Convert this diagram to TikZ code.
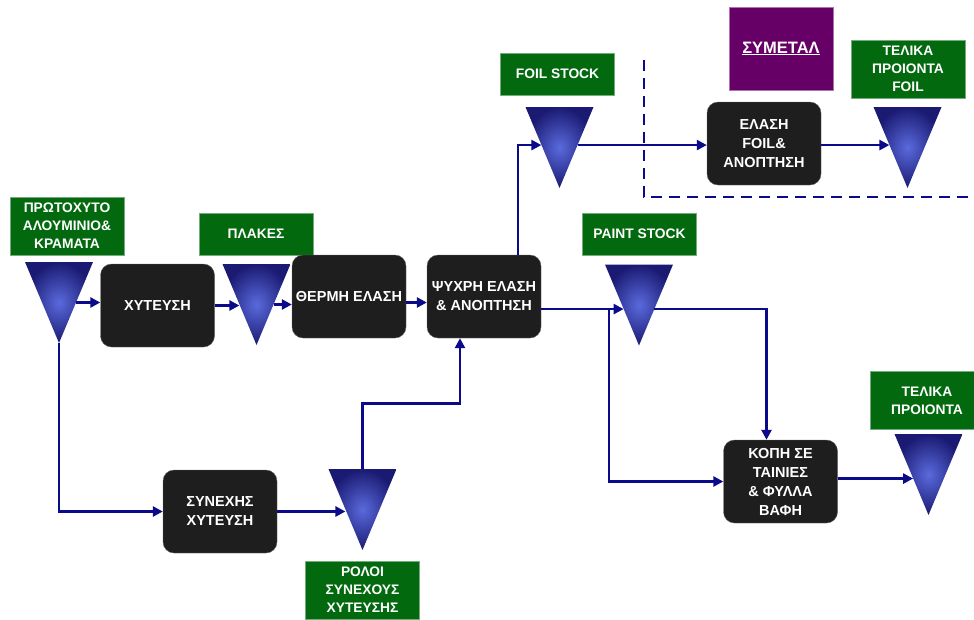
\documentclass[tikz,border=0pt]{standalone}
\usepackage{fontspec}
\setmainfont{Liberation Sans}
\usetikzlibrary{calc, arrows.meta}
\definecolor{flowblue}{HTML}{0A0A8A}
\definecolor{stockgreen}{HTML}{03690F}
\definecolor{plantpurple}{HTML}{660066}
\definecolor{boxblack}{HTML}{1E1E1E}
\definecolor{tankhi}{HTML}{5A6ADC}
\definecolor{tanklo}{HTML}{1A1A72}

\begin{document}
\begin{tikzpicture}
        [
            x=1pt, y=-1pt,
            every node/.style={font=\bfseries\fontsize{13.8}{18}\selectfont,
                               text=white, align=center},
            stage/.style={rectangle, rounded corners=11pt, fill=boxblack,
                          draw=black!60, minimum width=114pt,
                          minimum height=83pt, inner sep=0pt,
                          font=\bfseries\fontsize{14.5}{19}\selectfont},
            tag/.style={rectangle, fill=stockgreen, draw=stockgreen!55!white,
                        line width=0.8pt, minimum width=114pt,
                        minimum height=#1, inner sep=0pt},
            tag/.default=42pt,
            tank/.style={minimum width=68pt, minimum height=81pt, inner sep=0pt,
                         path picture={\shade[inner color=tankhi, outer color=tanklo]
                           (path picture bounding box.north west)
                           -- (path picture bounding box.north east)
                           -- (path picture bounding box.south) -- cycle;}},
            flow/.style={draw=flowblue, line width=2.8pt,
                         -{Triangle[length=10pt,width=10pt]}}
        ]
        \useasboundingbox (0,0) rectangle (974,619);
        \clip (0,0) rectangle (974,619);

        % stock tanks
        \foreach \n/\x/\y in {tprim/59/302.5, tplakes/256.5/304.5,
                              tfoil/559.5/147.5, tfoilend/907.5/147.5,
                              tpaint/639/305, tfinal/928.5/474.5,
                              trolls/362.5/509.5}{
            \node (\n) [tank] at (\x,\y) {};
        }

        % labels
        \node (lprim) [tag=58pt] at (67,226) {ΠΡΩΤΟΧΥΤΟ\\ΑΛΟΥΜΙΝΙΟ\&\\ΚΡΑΜΑΤΑ};
        \node (lplakes) [tag] at (256,234) {ΠΛΑΚΕΣ};
        \node (lfoil) [tag] at (557.5,74) {FOIL STOCK};
        \node (lfoilend) [tag=58pt] at (908,69) {ΤΕΛΙΚΑ\\ΠΡΟΙΟΝΤΑ\\FOIL};
        \node (lpaint) [tag] at (639.5,234) {PAINT STOCK};
        \node (lfinal) [tag=58pt] at (927,400.5) {ΤΕΛΙΚΑ\\ΠΡΟΙΟΝΤΑ};
        \node (lrolls) [tag=58pt] at (362.5,590) {ΡΟΛΟΙ\\ΣΥΝΕΧΟΥΣ\\ΧΥΤΕΥΣΗΣ};
        \node (symetal) [tag=83pt, fill=plantpurple, draw=plantpurple!55!white,
                         minimum width=104pt,
                         font=\bfseries\fontsize{16.5}{20}\selectfont]
            at (781,48.5) {\underline{ΣΥΜΕΤΑΛ}};

        % process stages
        \node (xyteysh) [stage] at (157.5,305.5) {ΧΥΤΕΥΣΗ};
        \node (thermh) [stage] at (349,296.5) {ΘΕΡΜΗ ΕΛΑΣΗ};
        \node (psyxrh) [stage] at (484,296.5) {ΨΥΧΡΗ ΕΛΑΣΗ\\\& ΑΝΟΠΤΗΣΗ};
        \node (elfoil) [stage] at (764,143.5) {ΕΛΑΣΗ\\FOIL\&\\ΑΝΟΠΤΗΣΗ};
        \node (kophs) [stage] at (780.5,481.5) {ΚΟΠΗ ΣΕ\\ΤΑΙΝΙΕΣ\\\& ΦΥΛΛΑ\\ΒΑΦΗ};
        \node (synexhs) [stage] at (220,511.5) {ΣΥΝΕΧΗΣ\\ΧΥΤΕΥΣΗ};

        % points on the tank sides
        \coordinate (primout) at ($(tprim.north east)!.5!(tprim.south)$);
        \coordinate (plakesin) at ($(tplakes.north west)!.5!(tplakes.south)$);
        \coordinate (plakesout) at ($(tplakes.north east)!.5!(tplakes.south)$);
        \coordinate (foilin) at ($(tfoil.north west)!.47!(tfoil.south)$);
        \coordinate (foilout) at ($(tfoil.north east)!.47!(tfoil.south)$);
        \coordinate (foilendin) at ($(tfoilend.north west)!.47!(tfoilend.south)$);
        \coordinate (paintin) at ($(tpaint.north west)!.55!(tpaint.south)$);
        \coordinate (paintout) at ($(tpaint.north east)!.55!(tpaint.south)$);
        \coordinate (finalin) at ($(tfinal.north west)!.55!(tfinal.south)$);
        \coordinate (rollsin) at ($(trolls.north west)!.5!(trolls.south)$);
        \coordinate (fork) at (609,309);

        \draw [flow] (primout) -- (primout -| xyteysh.west);
        \draw [flow] (xyteysh.east) -- (xyteysh.east -| plakesin);
        \draw [flow] (plakesout) -- (plakesout -| thermh.west);
        \draw [flow] ([yshift=-6pt]thermh.east) -- ([yshift=-6pt]psyxrh.west);
        \draw [flow] (psyxrh.east |- paintin) -- (paintin);
        \draw [flow] (fork) |- (kophs.west);
        \draw [flow] (paintout) -| ([xshift=-14pt]kophs.north);
        \draw [flow] (finalin -| kophs.east) -- (finalin);
        \draw [flow] ([xshift=34pt]psyxrh.north) |- (foilin);
        \draw [flow] (foilout) -- (foilout -| elfoil.west);
        \draw [flow] (foilendin -| elfoil.east) -- (foilendin);
        \draw [flow] (tprim.south) |- (synexhs.west);
        \draw [flow] (synexhs.east) -- (synexhs.east -| rollsin);
        \draw [flow] (trolls.north)
            |- ($(trolls.north)!.5!([xshift=-24pt]psyxrh.south)$)
            -| ([xshift=-24pt]psyxrh.south);

        % plant boundary
        \draw [flowblue, line width=2.8pt, dash pattern=on 11pt off 7pt]
            (644,60) -- (644,197) -- (974,197);
\end{tikzpicture}
\end{document}
